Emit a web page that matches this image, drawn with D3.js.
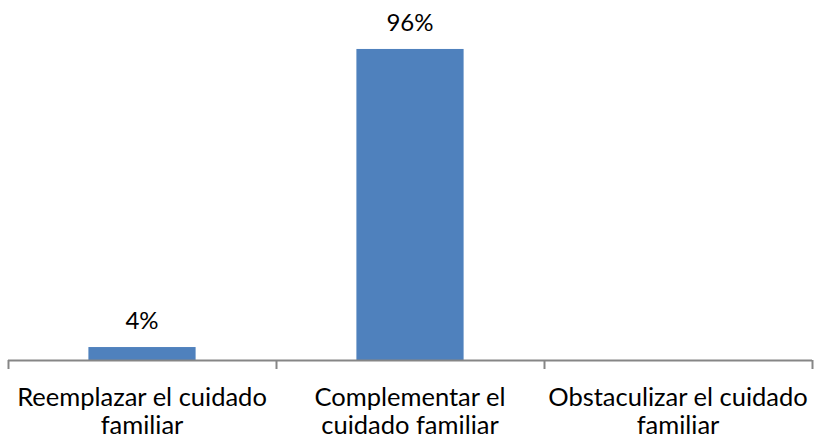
<!DOCTYPE html>
<html lang="es">
<head>
<meta charset="UTF-8">
<title>Cuidado familiar</title>
<style>
  body { margin: 0; background: #fff; }
  svg { display: block; }
  text { font-family: Lato, "Open Sans", sans-serif; fill: #000; }
</style>
</head>
<body>
<div id="chart"></div>
<script src="https://cdn.jsdelivr.net/npm/d3@7"></script>
<script>
  // chart data
  const categories = [
    ["Reemplazar el cuidado", "familiar"],
    ["Complementar el", "cuidado familiar"],
    ["Obstaculizar el cuidado", "familiar"]
  ];
  const values = [4, 96, null];
  const valueLabels = ["4%", "96%", ""];

  const width = 816, height = 441;
  const margin = { top: 36, right: 4, bottom: 81, left: 8 };

  const svg = d3.select('#chart').append('svg')
    .attr('width', width).attr('height', height);

  const x = d3.scaleBand()
    .domain(d3.range(categories.length))
    .range([margin.left, width - margin.right])
    .paddingInner(0.6).paddingOuter(0.3);

  const y = d3.scaleLinear()
    .domain([0, 100])
    .range([height - margin.bottom, margin.top]);

  const base = y(0);

  // bars
  svg.selectAll('rect.bar')
    .data(values.map((v, i) => ({ v, i })).filter(d => d.v != null))
    .enter().append('rect')
    .attr('class', 'bar')
    .attr('x', d => x(d.i))
    .attr('y', d => y(d.v))
    .attr('width', x.bandwidth())
    .attr('height', d => base - y(d.v))
    .attr('fill', '#4f81bd');

  // value labels
  svg.selectAll('text.val')
    .data(values.map((v, i) => ({ v, i })).filter(d => d.v != null))
    .enter().append('text')
    .attr('class', 'val')
    .attr('x', d => x(d.i) + x.bandwidth() / 2)
    .attr('y', d => y(d.v) - 18)
    .attr('text-anchor', 'middle')
    .attr('font-size', 24)
    .text(d => valueLabels[d.i]);

  // axis line + ticks at category boundaries
  const edges = d3.range(categories.length + 1).map(i => margin.left + i * (width - margin.left - margin.right) / categories.length);
  svg.append('line')
    .attr('x1', edges[0]).attr('x2', edges[edges.length - 1])
    .attr('y1', base + 0.5).attr('y2', base + 0.5)
    .attr('stroke', '#868686').attr('stroke-width', 2);
  svg.selectAll('line.tick')
    .data(edges)
    .enter().append('line')
    .attr('class', 'tick')
    .attr('x1', d => Math.round(d) + 0.5).attr('x2', d => Math.round(d) + 0.5)
    .attr('y1', base).attr('y2', base + 9)
    .attr('stroke', '#868686').attr('stroke-width', 2);

  // category labels
  const cat = svg.selectAll('text.cat')
    .data(categories)
    .enter().append('text')
    .attr('class', 'cat')
    .attr('text-anchor', 'middle')
    .attr('font-size', 25.5)
    .attr('x', (d, i) => (edges[i] + edges[i + 1]) / 2)
    .attr('y', base + 46);
  cat.selectAll('tspan')
    .data(d => d)
    .enter().append('tspan')
    .attr('x', function () { return this.parentNode.getAttribute('x'); })
    .attr('dy', (d, i) => i === 0 ? 0 : 28)
    .text(d => d);
</script>
</body>
</html>
